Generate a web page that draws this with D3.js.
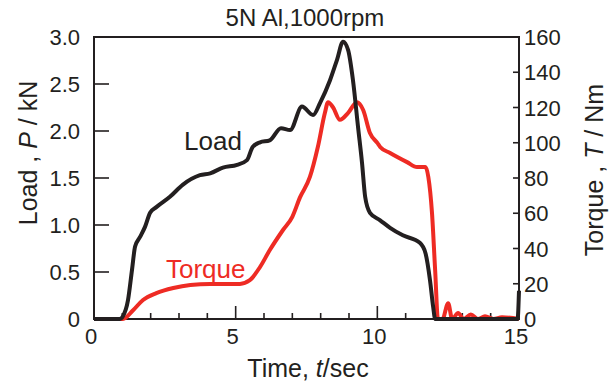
<!DOCTYPE html>
<html>
<head>
<meta charset="utf-8">
<script src="https://cdn.jsdelivr.net/npm/d3@7"></script>
<style>
body { margin: 0; background: #fff; }
text { font-family: "Liberation Sans", Arial, sans-serif; fill: #231f20; }
</style>
</head>
<body>
<svg id="chart" width="615" height="383"></svg>
<script>
// load curve, P (kN) vs t (sec)
var loadTime = [0, 0.9, 1.02, 1.2, 1.34, 1.45, 1.62, 1.8, 1.98, 2.2, 2.68, 3.14, 3.74, 4.1, 4.55, 5.05, 5.4, 5.6, 5.86, 6.2, 6.6, 6.92, 7.34, 7.73, 7.98, 8.33, 8.58, 8.79, 8.97, 9.14, 9.32, 9.46, 9.57, 9.74, 10.1, 10.45, 10.9, 11.5, 11.7, 11.86, 11.97, 12.04, 14.95, 15];
var loadVal = [0, 0, 0.03, 0.2, 0.52, 0.77, 0.87, 0.98, 1.13, 1.19, 1.30, 1.43, 1.53, 1.55, 1.61, 1.64, 1.69, 1.83, 1.88, 1.90, 2.03, 2.01, 2.26, 2.17, 2.30, 2.54, 2.76, 2.95, 2.86, 2.54, 2.04, 1.66, 1.30, 1.13, 1.05, 0.97, 0.89, 0.81, 0.70, 0.41, 0.13, 0, 0, 0.3];
// torque curve, T (Nm) vs t (sec)
var torqueTime = [0, 1.02, 1.38, 1.73, 2.2, 2.8, 3.4, 4.1, 5.15, 5.5, 5.86, 6.2, 6.67, 7.0, 7.27, 7.62, 7.9, 8.15, 8.26, 8.44, 8.68, 8.97, 9.28, 9.5, 9.74, 10.0, 10.1, 10.45, 11.05, 11.4, 11.7, 11.8, 11.93, 12.04, 12.14, 12.3, 12.5, 12.64, 12.85, 13.05, 13.3, 13.55, 13.8, 14.1, 14.4, 15];
var torqueVal = [0, 0, 5, 10.8, 14.7, 17.6, 19.3, 19.9, 19.9, 22, 29.5, 39, 50.5, 58, 69, 80.6, 97.6, 117, 123, 120, 113, 117, 123, 118.6, 105.5, 99.9, 97.6, 94.2, 89, 86.2, 86.2, 80.6, 60, 27.8, 0, 0, 9, 0, 3.4, 0, 2.5, 0, 1.5, 0, 1, 0];

var xTicks = [0, 5, 10, 15];
var loadTicks = [0, 0.5, 1.0, 1.5, 2.0, 2.5, 3.0];
var torqueTicks = [0, 20, 40, 60, 80, 100, 120, 140, 160];

var svg = d3.select("#chart");
var pLeft = 94, pRight = 519, pTop = 37, pBottom = 319;
var ink = "#231f20", red = "#ee2b24";

var x = d3.scaleLinear().domain([0, 15]).range([pLeft, pRight]);
var yL = d3.scaleLinear().domain([0, 3]).range([pBottom, pTop]);
var yT = d3.scaleLinear().domain([0, 160]).range([pBottom, pTop]);

// frame
svg.append("rect")
    .attr("x", pLeft).attr("y", pTop)
    .attr("width", pRight - pLeft).attr("height", pBottom - pTop)
    .attr("fill", "none").attr("stroke", ink).attr("stroke-width", 2);

// x ticks, inward
var minor = d3.range(0, 16, 1);
svg.selectAll(".xt").data(minor).enter().append("line")
    .attr("x1", function(d) { return x(d); })
    .attr("x2", function(d) { return x(d); })
    .attr("y1", pBottom)
    .attr("y2", function(d) { return d % 5 == 0 ? pBottom - 13 : pBottom - 6; })
    .attr("stroke", ink).attr("stroke-width", 1.6);

svg.selectAll(".xl").data(xTicks).enter().append("text")
    .attr("x", function(d) { return x(d) - 3; })
    .attr("y", 344)
    .attr("text-anchor", "middle")
    .attr("font-size", 22)
    .text(function(d) { return d; });

// left ticks
svg.selectAll(".yl").data(loadTicks).enter().append("line")
    .attr("x1", pLeft).attr("x2", pLeft + 15)
    .attr("y1", function(d) { return yL(d); })
    .attr("y2", function(d) { return yL(d); })
    .attr("stroke", ink).attr("stroke-width", 1.6);

svg.selectAll(".yll").data(loadTicks).enter().append("text")
    .attr("x", 80)
    .attr("y", function(d) { return yL(d) + 8; })
    .attr("text-anchor", "end")
    .attr("font-size", 22)
    .text(function(d) { return d == 0 ? "0" : d3.format(".1f")(d); });

// right ticks
svg.selectAll(".yr").data(torqueTicks).enter().append("line")
    .attr("x1", pRight - 6).attr("x2", pRight)
    .attr("y1", function(d) { return yT(d); })
    .attr("y2", function(d) { return yT(d); })
    .attr("stroke", ink).attr("stroke-width", 1.6);

svg.selectAll(".yrl").data(torqueTicks).enter().append("text")
    .attr("x", 524)
    .attr("y", function(d) { return yT(d) + 8; })
    .attr("font-size", 22)
    .text(function(d) { return d; });

// curves
var loadLine = d3.line()
    .x(function(d, i) { return x(loadTime[i]); })
    .y(function(d) { return yL(d); })
    .curve(d3.curveMonotoneX);
var torqueLine = d3.line()
    .x(function(d, i) { return x(torqueTime[i]); })
    .y(function(d) { return yT(d); })
    .curve(d3.curveMonotoneX);

svg.append("path").attr("d", torqueLine(torqueVal))
    .attr("fill", "none").attr("stroke", red).attr("stroke-width", 4)
    .attr("stroke-linejoin", "round");
svg.append("path").attr("d", loadLine(loadVal))
    .attr("fill", "none").attr("stroke", ink).attr("stroke-width", 4)
    .attr("stroke-linejoin", "round");

// labels
svg.append("text").attr("x", 184).attr("y", 150)
    .attr("font-size", 26).text("Load");
svg.append("text").attr("x", 166).attr("y", 278)
    .attr("font-size", 26).style("fill", red).text("Torque");

svg.append("text").attr("x", 305).attr("y", 26)
    .attr("text-anchor", "middle").attr("font-size", 24)
    .text("5N Al,1000rpm");

var xt = svg.append("text").attr("x", 308).attr("y", 377)
    .attr("text-anchor", "middle").attr("font-size", 25);
xt.append("tspan").text("Time, ");
xt.append("tspan").style("font-style", "italic").text("t");
xt.append("tspan").text("/sec");

var lt = svg.append("text")
    .attr("transform", "translate(37,153) rotate(-90)")
    .attr("text-anchor", "middle").attr("font-size", 25);
lt.append("tspan").text("Load , ");
lt.append("tspan").style("font-style", "italic").text("P");
lt.append("tspan").text(" / kN");

var rt = svg.append("text")
    .attr("transform", "translate(603,170) rotate(-90)")
    .attr("text-anchor", "middle").attr("font-size", 25);
rt.append("tspan").text("Torque , ");
rt.append("tspan").style("font-style", "italic").text("T");
rt.append("tspan").text(" / Nm");
</script>
</body>
</html>
